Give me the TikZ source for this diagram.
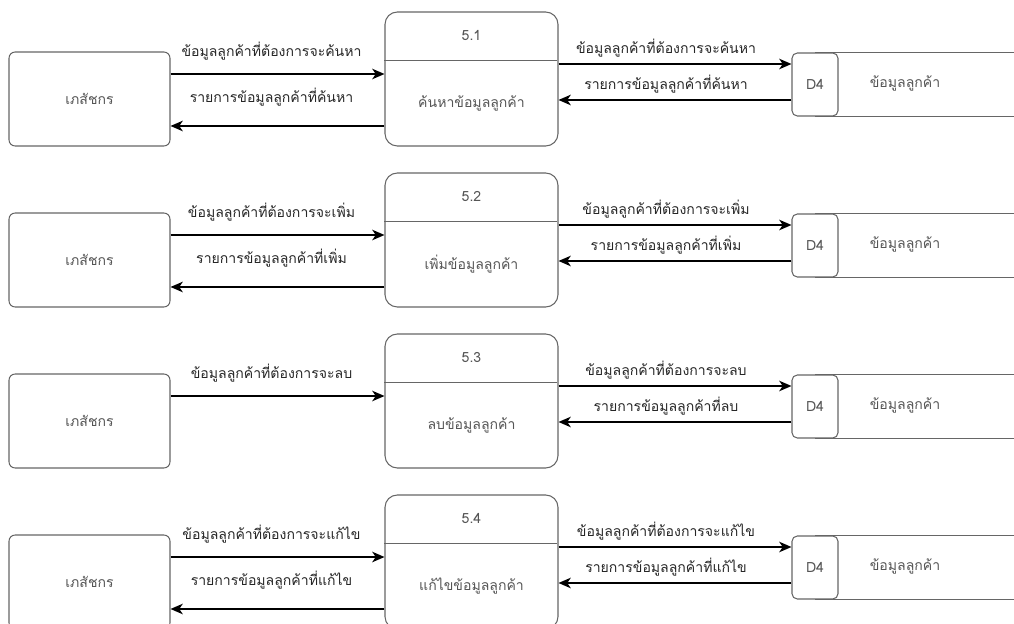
\documentclass[tikz,border=0pt]{standalone}
\usepackage{fontspec}
\newfontfamily\thaifont[Script=Thai]{Loma}
\usetikzlibrary{arrows.meta}
\definecolor{boxgray}{HTML}{666666}
\definecolor{txtgray}{HTML}{555555}
\begin{document}
\begin{tikzpicture}[x=.02cm, y=-.02cm, >={Stealth[length=7pt,width=6pt,inset=2pt]},
  font=\thaifont\fontsize{8}{10}\selectfont,
  ent/.style={draw=boxgray, line width=.6pt, rounded corners=3.5pt, minimum width=3.22cm, minimum height=1.88cm, text=txtgray},
  proc/.style={draw=boxgray, line width=.6pt, rounded corners=7pt, minimum width=3.46cm, minimum height=2.68cm},
  dstore/.style={draw=boxgray, line width=.6pt, rounded corners=3pt, minimum width=.92cm, minimum height=1.26cm, text=txtgray},
  graytext/.style={text=txtgray},
  lbl/.style={text=black!85},
  flow/.style={->, line width=.8pt}]
\clip (0,0) rectangle (1014,624);
\foreach \i/\task in {1/ค้นหา, 2/เพิ่ม, 3/ลบ, 4/แก้ไข}{
  \pgfmathsetmacro\dy{161*(\i-1)}
  \node[ent] (ent\i) at (89.5,99+\dy) {เภสัชกร};
  \node[proc] (proc\i) at (471.5,79+\dy) {};
  \draw[boxgray, line width=.6pt] (proc\i.north west) ++(0,49) -- ++(173,0);
  \node[graytext] (num\i) at (471.5,35+\dy) {5.\i};
  \node[graytext] (task\i) at (471.5,103+\dy) {\task ข้อมูลลูกค้า};
  \node[dstore] (d4\i) at (815,84.5+\dy) {D4};
  \node[graytext] (store\i) at (905,83+\dy) {ข้อมูลลูกค้า};
  \draw[boxgray, line width=.7pt] (d4\i.north) -- ++(230,0) (d4\i.south) -- ++(230,0);
  \draw[flow] ([yshift=.5cm]ent\i.east) -- ([yshift=.5cm]ent\i.east -| proc\i.west)
    node[lbl, midway, xshift=-.12cm, yshift=.46cm] {ข้อมูลลูกค้าที่ต้องการจะ\task};
  \draw[flow] ([yshift=.41cm]d4\i.west -| proc\i.east) -- ([yshift=.41cm]d4\i.west)
    node[lbl, midway, xshift=-.18cm, yshift=.32cm] {ข้อมูลลูกค้าที่ต้องการจะ\task};
  \draw[flow] ([yshift=-.31cm]d4\i.west) -- ([yshift=-.31cm]d4\i.west -| proc\i.east)
    node[lbl, midway, xshift=-.18cm, yshift=.32cm] {รายการข้อมูลลูกค้าที่\task};
}
\foreach \i/\task in {1/ค้นหา, 2/เพิ่ม, 4/แก้ไข}
  \draw[flow] ([yshift=-.54cm]ent\i.east -| proc\i.west) -- ([yshift=-.54cm]ent\i.east)
    node[lbl, midway, xshift=-.12cm, yshift=.58cm] {รายการข้อมูลลูกค้าที่\task};
\end{tikzpicture}
\end{document}
